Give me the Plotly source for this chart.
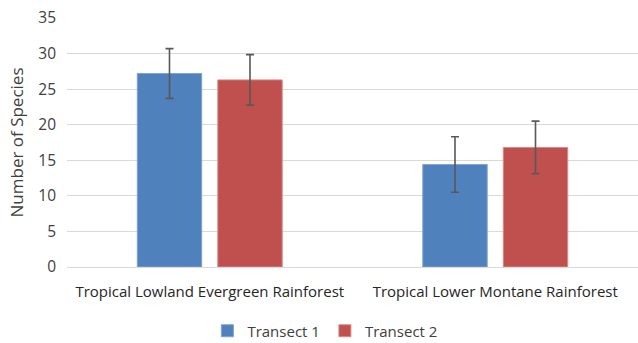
import plotly.graph_objects as go

categories = ["Tropical Lowland Evergreen Rainforest", "Tropical Lower Montane Rainforest"]
transect1 = [27.2, 14.4]
transect1_err = [3.5, 3.9]
transect2 = [26.3, 16.8]
transect2_err = [3.55, 3.7]
y_ticks = [0, 5, 10, 15, 20, 25, 30, 35]

FONT = "Open Sans"
err_style = dict(type="data", color="#595959", thickness=1.6, width=4)

fig = go.Figure()
fig.add_trace(go.Bar(
    name="Transect 1", x=categories, y=transect1,
    error_y=dict(array=transect1_err, **err_style),
    marker=dict(color="#4F81BD", line=dict(color="#7FA2D0", width=1)),
))
fig.add_trace(go.Bar(
    name="Transect 2", x=categories, y=transect2,
    error_y=dict(array=transect2_err, **err_style),
    marker=dict(color="#C0504D", line=dict(color="#D88A88", width=1)),
))

fig.update_layout(
    width=638, height=343,
    margin=dict(l=67, r=0, t=18, b=76, autoexpand=False),
    paper_bgcolor="white", plot_bgcolor="white",
    barmode="group", bargap=0.436, bargroupgap=0.2,
    font=dict(family=FONT, size=14, color="#404040"),
    showlegend=True,
    legend=dict(
        orientation="h", xref="container", yref="container",
        x=0.51, xanchor="center", y=0.035, yanchor="middle",
        font=dict(family=FONT, size=15, color="#404040"),
        itemwidth=30, traceorder="normal",
    ),
    xaxis=dict(
        showgrid=False, showline=False, zeroline=False, automargin=False,
        tickfont=dict(family=FONT, size=15, color="#262626"),
        ticklabelstandoff=14,
    ),
    yaxis=dict(
        range=[0, 35], tickvals=y_ticks, automargin=False,
        showgrid=True, gridcolor="#D9D9D9", gridwidth=1.4,
        zeroline=True, zerolinecolor="#D9D9D9", zerolinewidth=1.4,
        showline=False,
        tickfont=dict(family=FONT, size=15.5, color="#404040"),
        ticklabelstandoff=10,
        title=dict(text="Number of Species", standoff=10,
                   font=dict(family=FONT, size=17, color="#404040")),
    ),
)

fig.write_html("out.html", config={"displayModeBar": False},
               post_script="document.body.style.margin='0';")
